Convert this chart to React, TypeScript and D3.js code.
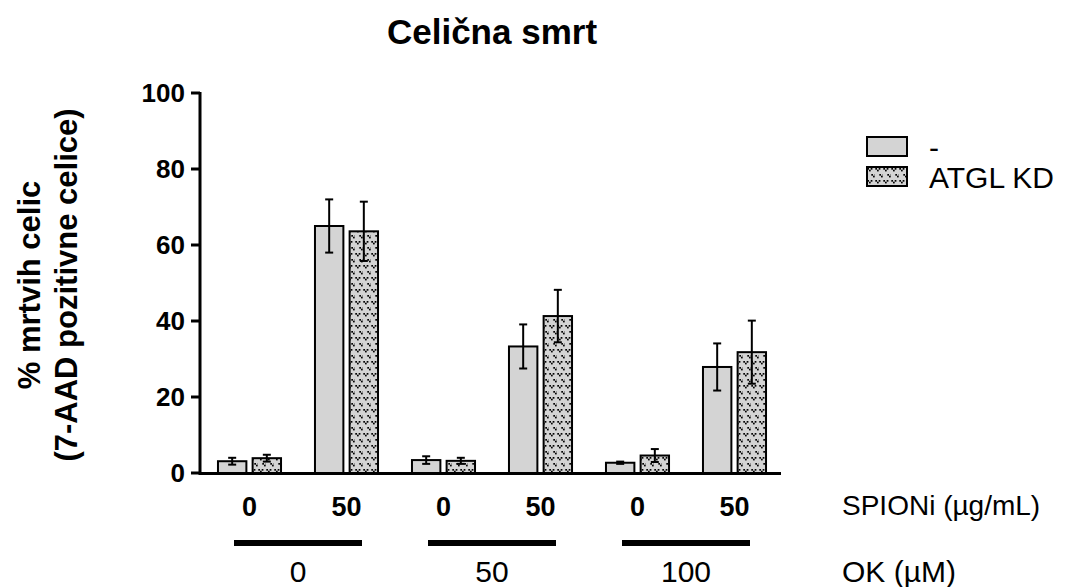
import React, { useRef, useEffect } from "react";
import * as d3 from "d3";

// SPIONi dose under each bar pair, and OK dose for each pair of pairs
const spioniLabels = ["0", "50", "0", "50", "0", "50"];
const okLabels = ["0", "50", "100"];
const seriesNames = ["-", "ATGL KD"];

// % dead cells (mean and error)
const controlMeans = [3.1, 65.0, 3.4, 33.3, 2.7, 27.9];
const controlErr = [0.9, 7.0, 1.0, 5.8, 0.3, 6.2];
const kdMeans = [3.9, 63.6, 3.2, 41.3, 4.6, 31.8];
const kdErr = [0.9, 7.8, 0.8, 6.9, 1.7, 8.3];

const yTicks = [0, 20, 40, 60, 80, 100];

const FONT = "'Liberation Sans', Arial, sans-serif";

const App = () => {
  const svgRef = useRef<SVGSVGElement>(null);

  useEffect(() => {
    const width = 1065;
    const height = 587;
    const svg = d3.select(svgRef.current).attr("width", width).attr("height", height);
    svg.selectAll("*").remove();

    // dotted "v" pattern for ATGL KD bars
    const defs = svg.append("defs");
    const pat = defs
      .append("pattern")
      .attr("id", "vdots")
      .attr("patternUnits", "userSpaceOnUse")
      .attr("width", 8)
      .attr("height", 12);
    pat.append("rect").attr("width", 8).attr("height", 12).attr("fill", "#d4d4d4");
    const vMark = (x: number, y: number) => {
      const s = 1.7;
      pat.append("rect").attr("x", x).attr("y", y).attr("width", s).attr("height", s).attr("fill", "#000");
      pat.append("rect").attr("x", x + 2 * s).attr("y", y).attr("width", s).attr("height", s).attr("fill", "#000");
      pat.append("rect").attr("x", x + s).attr("y", y + s).attr("width", s).attr("height", s).attr("fill", "#000");
    };
    vMark(0.3, 1);
    vMark(4.3, 7);

    const x0 = d3
      .scaleBand<number>()
      .domain(d3.range(spioniLabels.length))
      .range([201, 783])
      .paddingInner(0.35)
      .paddingOuter(0.175);

    const x1 = d3
      .scaleBand<number>()
      .domain([0, 1])
      .range([0, x0.bandwidth()])
      .paddingInner(0.18);

    const y = d3.scaleLinear().domain([0, 100]).range([473, 93]);

    const rows = spioniLabels.map((_, i) => [
      { s: 0, i, v: controlMeans[i], e: controlErr[i] },
      { s: 1, i, v: kdMeans[i], e: kdErr[i] },
    ]);

    const g = svg.append("g");

    const groups = g
      .selectAll("g.grp")
      .data(rows)
      .enter()
      .append("g")
      .attr("class", "grp")
      .attr("transform", (_, i) => `translate(${x0(i)},0)`);

    groups
      .selectAll("rect")
      .data((d) => d)
      .enter()
      .append("rect")
      .attr("x", (d) => x1(d.s)!)
      .attr("y", (d) => y(d.v))
      .attr("width", x1.bandwidth())
      .attr("height", (d) => y(0) - y(d.v))
      .attr("fill", (d) => (d.s === 0 ? "#d4d4d4" : "url(#vdots)"))
      .attr("stroke", "#000")
      .attr("stroke-width", 2);

    // error bars
    const eb = groups
      .selectAll("g.err")
      .data((d) => d)
      .enter()
      .append("g")
      .attr("class", "err")
      .attr("stroke", "#000")
      .attr("stroke-width", 2);
    const cx = (d: any) => x1(d.s)! + x1.bandwidth() / 2;
    eb.append("line")
      .attr("x1", cx)
      .attr("x2", cx)
      .attr("y1", (d) => y(d.v + d.e))
      .attr("y2", (d) => y(d.v - d.e));
    [1, -1].forEach((sgn) => {
      eb.append("line")
        .attr("x1", (d) => cx(d) - 4)
        .attr("x2", (d) => cx(d) + 4)
        .attr("y1", (d) => y(d.v + sgn * d.e))
        .attr("y2", (d) => y(d.v + sgn * d.e));
    });

    // axes
    g.append("line")
      .attr("x1", 200)
      .attr("x2", 200)
      .attr("y1", y(100) - 1)
      .attr("y2", y(0) + 2)
      .attr("stroke", "#000")
      .attr("stroke-width", 3);
    g.append("line")
      .attr("x1", 199)
      .attr("x2", 781)
      .attr("y1", y(0) + 0.5)
      .attr("y2", y(0) + 0.5)
      .attr("stroke", "#000")
      .attr("stroke-width", 3);

    const yt = g.selectAll("g.ytick").data(yTicks).enter().append("g").attr("class", "ytick");
    yt.append("line")
      .attr("x1", 191)
      .attr("x2", 200)
      .attr("y1", (d) => y(d))
      .attr("y2", (d) => y(d))
      .attr("stroke", "#000")
      .attr("stroke-width", 3);
    yt.append("text")
      .attr("x", 185)
      .attr("y", (d) => y(d))
      .attr("dy", "0.36em")
      .attr("text-anchor", "end")
      .attr("font-family", FONT)
      .attr("font-weight", "bold")
      .attr("font-size", 26)
      .text((d) => d);

    // SPIONi labels
    g.selectAll("text.sp")
      .data(spioniLabels)
      .enter()
      .append("text")
      .attr("class", "sp")
      .attr("x", (_, i) => x0(i)! + x0.bandwidth() / 2)
      .attr("y", 516)
      .attr("text-anchor", "middle")
      .attr("font-family", FONT)
      .attr("font-weight", "bold")
      .attr("font-size", 27)
      .text((d) => d);

    // OK groups: black line + label
    okLabels.forEach((lab, k) => {
      const mid = (x0(2 * k)! + x0(2 * k + 1)! + x0.bandwidth()) / 2;
      g.append("line")
        .attr("x1", mid - 64)
        .attr("x2", mid + 64)
        .attr("y1", 543)
        .attr("y2", 543)
        .attr("stroke", "#000")
        .attr("stroke-width", 6);
      g.append("text")
        .attr("x", mid)
        .attr("y", 582)
        .attr("text-anchor", "middle")
        .attr("font-family", FONT)
        .attr("font-size", 30)
        .text(lab);
    });

    g.append("text")
      .attr("x", 842)
      .attr("y", 515)
      .attr("font-family", FONT)
      .attr("font-size", 28)
      .text("SPIONi (µg/mL)");
    g.append("text")
      .attr("x", 842)
      .attr("y", 582)
      .attr("font-family", FONT)
      .attr("font-size", 30)
      .text("OK (µM)");

    // title
    g.append("text")
      .attr("x", 492)
      .attr("y", 44)
      .attr("text-anchor", "middle")
      .attr("font-family", FONT)
      .attr("font-weight", "bold")
      .attr("font-size", 35)
      .text("Celična smrt");

    // y label
    const yl = g
      .append("text")
      .attr("transform", `translate(0,${(y(0) + y(100)) / 2 + 2}) rotate(-90)`)
      .attr("text-anchor", "middle")
      .attr("font-family", FONT)
      .attr("font-weight", "bold")
      .attr("font-size", 31);
    yl.append("tspan").attr("x", 0).attr("y", 40).text("% mrtvih celic");
    yl.append("tspan").attr("x", 0).attr("y", 77).text("(7-AAD pozitivne celice)");

    // legend
    const leg = g
      .selectAll("g.leg")
      .data(seriesNames)
      .enter()
      .append("g")
      .attr("class", "leg")
      .attr("transform", (_, i) => `translate(867,${137 + i * 30})`);
    leg
      .append("rect")
      .attr("width", 40)
      .attr("height", 19)
      .attr("fill", (_, i) => (i === 0 ? "#d4d4d4" : "url(#vdots)"))
      .attr("stroke", "#000")
      .attr("stroke-width", 2);
    leg
      .append("text")
      .attr("x", 62)
      .attr("y", 21)
      .attr("font-family", FONT)
      .attr("font-size", 30)
      .text((d) => d);
  }, []);

  return <svg ref={svgRef} style={{ position: "absolute", left: 0, top: 0 }}></svg>;
};

export default App;
